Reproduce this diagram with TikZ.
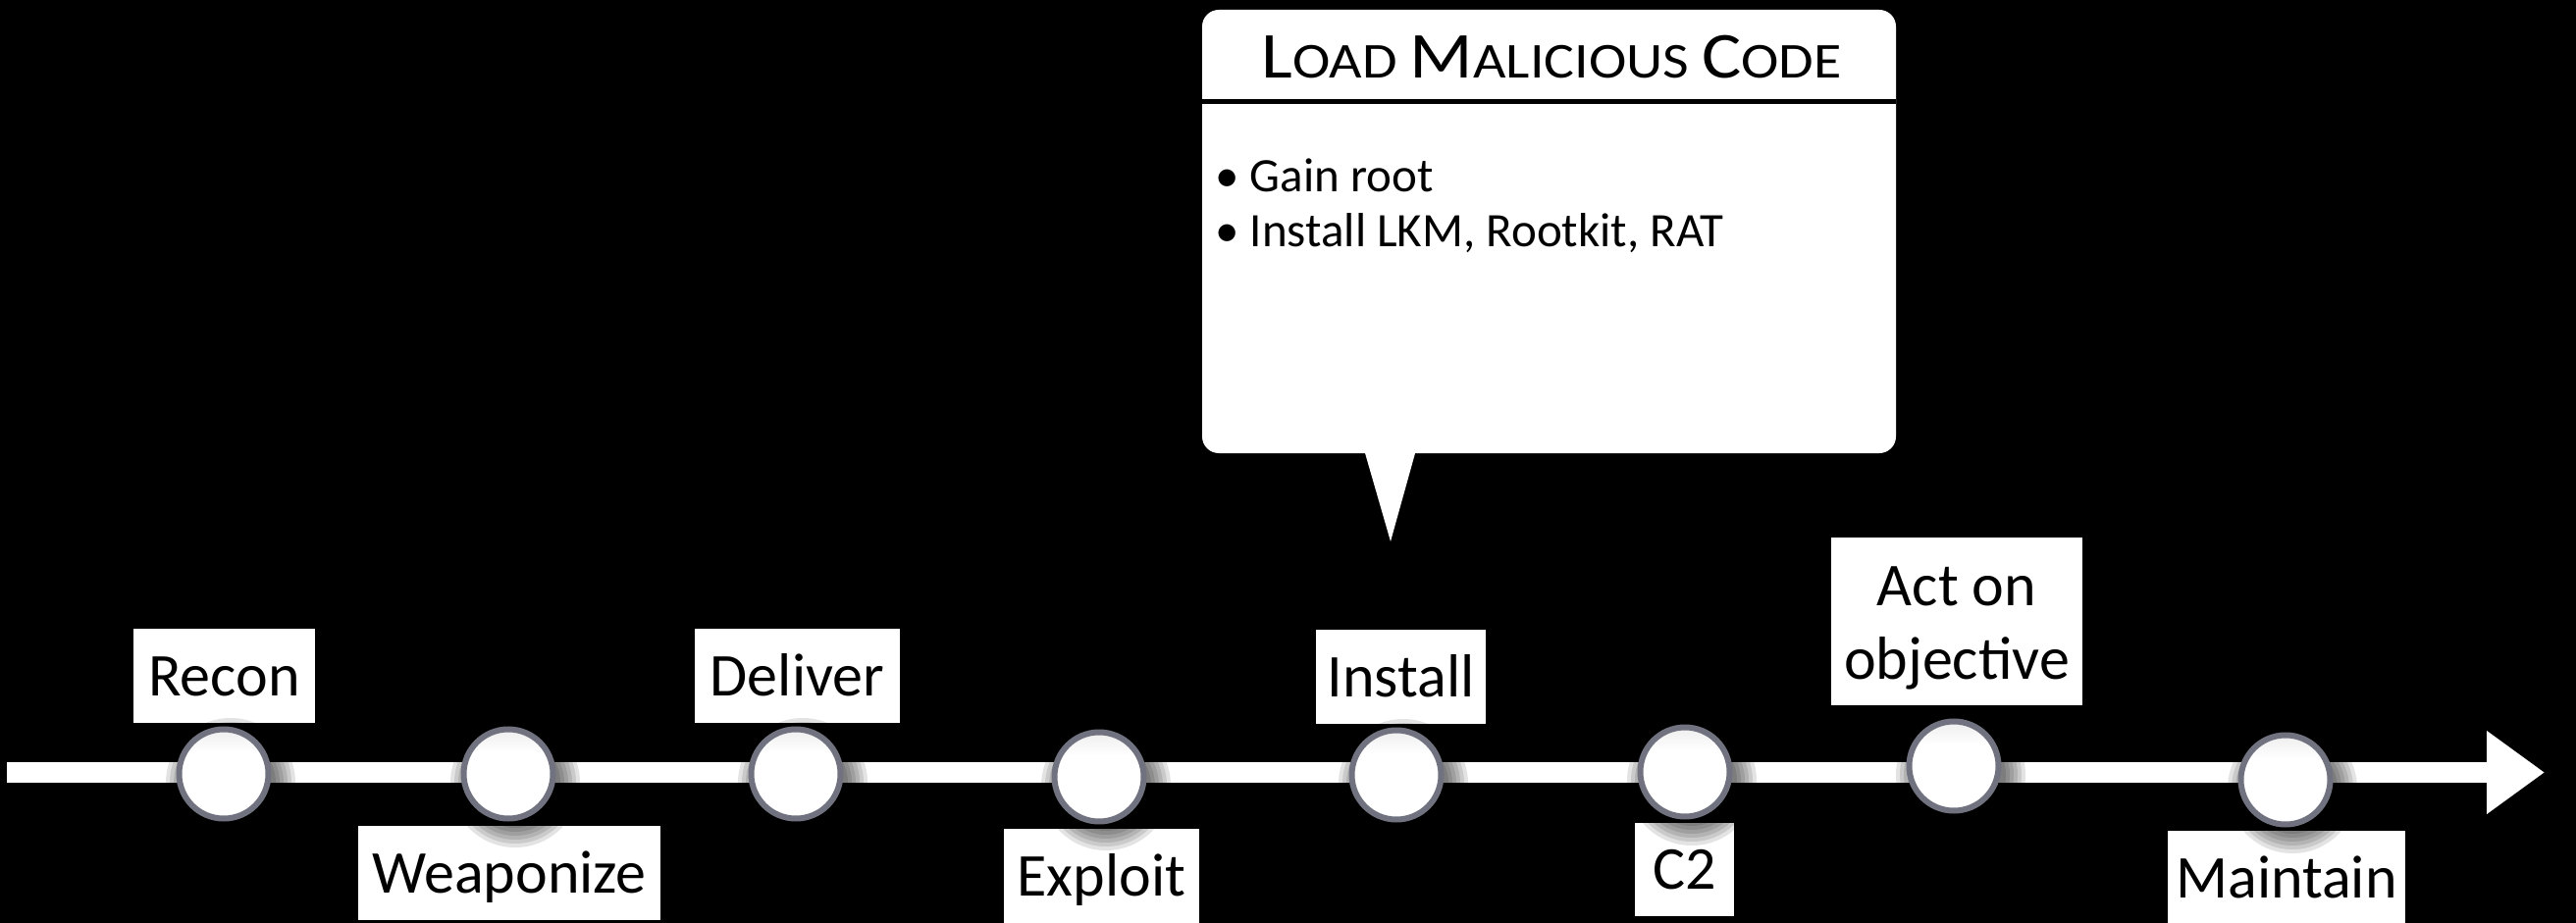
\documentclass[tikz,border=0pt]{standalone}
\usepackage{fontspec}
\usepackage{graphicx}
\setmainfont{Carlito}
\usetikzlibrary{arrows.meta,calc}
\definecolor{ringgray}{RGB}{112,114,128}
\newcommand{\initialcap}[1]{{\fontsize{33.4}{40}\selectfont #1}}
% marker fill: white body, greyish only near the top
\pgfdeclareverticalshading{stagefill}{100bp}{color(0bp)=(white); color(62bp)=(white); color(100bp)=(black!20)}
\begin{document}
\begin{tikzpicture}[x=0.5pt,y=-0.5pt,
  lab/.style={fill=white,inner sep=0pt,minimum height=48pt,text=black,
    font=\fontsize{31}{37.5}\selectfont,text height=20pt,text depth=0pt},
  stage/.style={circle,draw=ringgray,line width=3pt,minimum size=45.5pt,inner sep=0pt,
    shading=stagefill},
  softshadow/.style={fill=black,opacity=0.11},
  bullet/.style={anchor=base west,inner sep=0pt,text=black,font=\fontsize{24.5}{29}\selectfont},
]
% canvas
\fill[black] (0,0) rectangle (2625,941);
\useasboundingbox (0,0) rectangle (2625,941);

% timeline
\coordinate (tstart) at (7,787.5);
\coordinate (tend) at (2593,787.5);
\draw[white,line width=10.5pt,-{Triangle[length=29.5pt,width=40.5pt]}] (tstart) -- (tend);

% stage centres
\coordinate (p1) at (228,789);
\coordinate (p2) at (518,789);
\coordinate (p3) at (811,789);
\coordinate (p4) at (1120,792);
\coordinate (p5) at (1423,790);
\coordinate (p6) at (1717,787);
\coordinate (p7) at (1991,781);
\coordinate (p8) at (2329,795);

% stage labels
\node[lab,minimum width=92.5pt] (recon) at (228.5,689) {Recon};
\node[lab,minimum width=154pt] (weap) at (519,890) {Weaponize};
\node[lab,minimum width=104.5pt] (deliver) at (812.5,689) {Deliver};
\node[lab,minimum width=99.5pt] (exploit) at (1122.5,893) {Exploit};
\node[lab,minimum width=86.5pt] (install) at (1427.5,690) {Install};
\node[lab,minimum width=50.5pt,minimum height=47.5pt] (c2) at (1716.5,886.5) {C2};
\node[fill=white,inner sep=0pt,minimum width=128pt,minimum height=85.5pt] (act) at (1994,633.5) {};
% two-line label: the base anchor sits on the last line
\node[anchor=base,inner sep=0pt,text=black,align=center,
      font=\fontsize{31}{37.5}\selectfont] (acttext) at (1994,692) {Act on\\objective};
\node[lab,minimum width=121pt] (maintain) at (2330,895) {Maintain};

% soft shadows under the stage markers
\foreach \p in {p1,p2,p3,p4,p5,p6,p7,p8}{
  \foreach \r in {46,50,54,58,62,66}{
    \fill[softshadow] ($(\p)+(7,9)$) circle[radius=\r];
  }
}

% stage markers
\foreach \p/\n in {p1/s1,p2/s2,p3/s3,p4/s4,p5/s5,p6/s6,p7/s7,p8/s8}{
  \node[stage] (\n) at (\p) {};
}

% callout
\node[fill=white,rounded corners=8.5pt,minimum width=353.5pt,minimum height=226pt,inner sep=0pt] (callout) at (1578.5,236) {};
\coordinate (ptip) at (1417,552);
\coordinate (pl) at (1389,455);
\coordinate (pr) at (1444,455);
\fill[white] (pl) -- (ptip) -- (pr) -- cycle;
\coordinate (sep) at (0,104);
\draw[black,line width=2.5pt] (callout.west |- sep) -- (callout.east |- sep);
\node[anchor=base,inner sep=0pt,text=black,font=\fontsize{25.6}{30}\selectfont] (title) at (1581,80)
  {\scalebox{1.13}[1]{\initialcap{L}OAD \initialcap{M}ALICIOUS \initialcap{C}ODE}};
\node[bullet] (b1) at (1238,196) {• Gain root};
\node[bullet] (b2) at (1238,252) {• Install LKM, Rootkit, RAT};
\end{tikzpicture}
\end{document}
